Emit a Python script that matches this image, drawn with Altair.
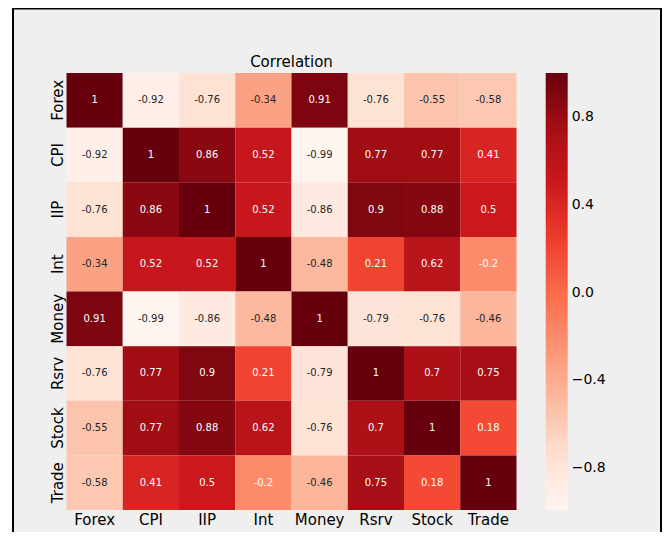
import altair as alt
import pandas as pd

labels = ["Forex", "CPI", "IIP", "Int", "Money", "Rsrv", "Stock", "Trade"]
rows = [
    [1, -0.92, -0.76, -0.34, 0.91, -0.76, -0.55, -0.58],
    [-0.92, 1, 0.86, 0.52, -0.99, 0.77, 0.77, 0.41],
    [-0.76, 0.86, 1, 0.52, -0.86, 0.9, 0.88, 0.5],
    [-0.34, 0.52, 0.52, 1, -0.48, 0.21, 0.62, -0.2],
    [0.91, -0.99, -0.86, -0.48, 1, -0.79, -0.76, -0.46],
    [-0.76, 0.77, 0.9, 0.21, -0.79, 1, 0.7, 0.75],
    [-0.55, 0.77, 0.88, 0.62, -0.76, 0.7, 1, 0.18],
    [-0.58, 0.41, 0.5, -0.2, -0.46, 0.75, 0.18, 1],
]
legend_ticks = [-0.8, -0.4, 0.0, 0.4, 0.8]
reds = ["#fff5f0", "#fee0d2", "#fcbba1", "#fc9272", "#fb6a4a",
        "#ef3b2c", "#cb181d", "#a50f15", "#67000d"]

recs = []
for i, r in enumerate(labels):
    for j, c in enumerate(labels):
        v = rows[i][j]
        recs.append({"row": r, "col": c, "value": v, "label": f"{v:.2g}"})
df = pd.DataFrame(recs)

vmin = min(min(r) for r in rows)
vmax = max(max(r) for r in rows)
stops = [vmin + k * (vmax - vmin) / 8 for k in range(9)]

FONT = "DejaVu Sans"
band = alt.Scale(paddingInner=0, paddingOuter=0)

xenc = alt.X("col:N", sort=labels, scale=band, title=None,
             axis=alt.Axis(labelAngle=0, ticks=False, domain=False, labelPadding=2,
                           labelFont=FONT, labelFontSize=15, labelColor="black",
                           zindex=1))
yenc = alt.Y("row:N", sort=labels, scale=band, title=None,
             axis=alt.Axis(labelAngle=270, ticks=False, domain=False, labelPadding=4,
                           labelAlign="center", labelBaseline="alphabetic",
                           labelFont=FONT, labelFontSize=15, labelColor="black",
                           zindex=1))

frame = alt.Chart(pd.DataFrame({"a": [0]})).mark_rect(
    fill="#efefef", stroke="black", strokeWidth=2
).encode(x=alt.value(-53.5), x2=alt.value(594.5), y=alt.value(-64.5), y2=alt.value(600))

heat = alt.Chart(df).mark_rect().encode(
    x=xenc,
    y=yenc,
    color=alt.Color("value:Q", title=None,
                    scale=alt.Scale(domain=stops, range=reds, interpolate="rgb"),
                    legend=alt.Legend(orient="none", legendX=479.2, legendY=0,
                                      direction="vertical", type="gradient",
                                      gradientLength=437, gradientThickness=22,
                                      gradientStrokeWidth=0, values=legend_ticks,
                                      format=".1f", labelFont=FONT, labelFontSize=14,
                                      labelColor="black", labelOffset=4, padding=0)),
)

text = alt.Chart(df).mark_text(font=FONT, fontSize=10).encode(
    x=xenc,
    y=yenc,
    text="label:N",
    color=alt.condition(alt.datum.value > -0.3, alt.value("white"), alt.value("#262626")),
)

chart = alt.layer(frame, heat, text).properties(
    width=450,
    height=437,
    title=alt.Title("Correlation", font=FONT, fontSize=15, fontWeight="normal",
                    anchor="middle", frame="group", offset=-74, baseline="alphabetic",
                    color="black"),
    autosize=alt.AutoSizeParams(type="none"),
    padding={"left": 58.5, "top": 65, "right": 145.5, "bottom": 22},
).configure_view(strokeOpacity=0)

chart.save("out.html", embed_options={"renderer": "svg", "actions": False})
